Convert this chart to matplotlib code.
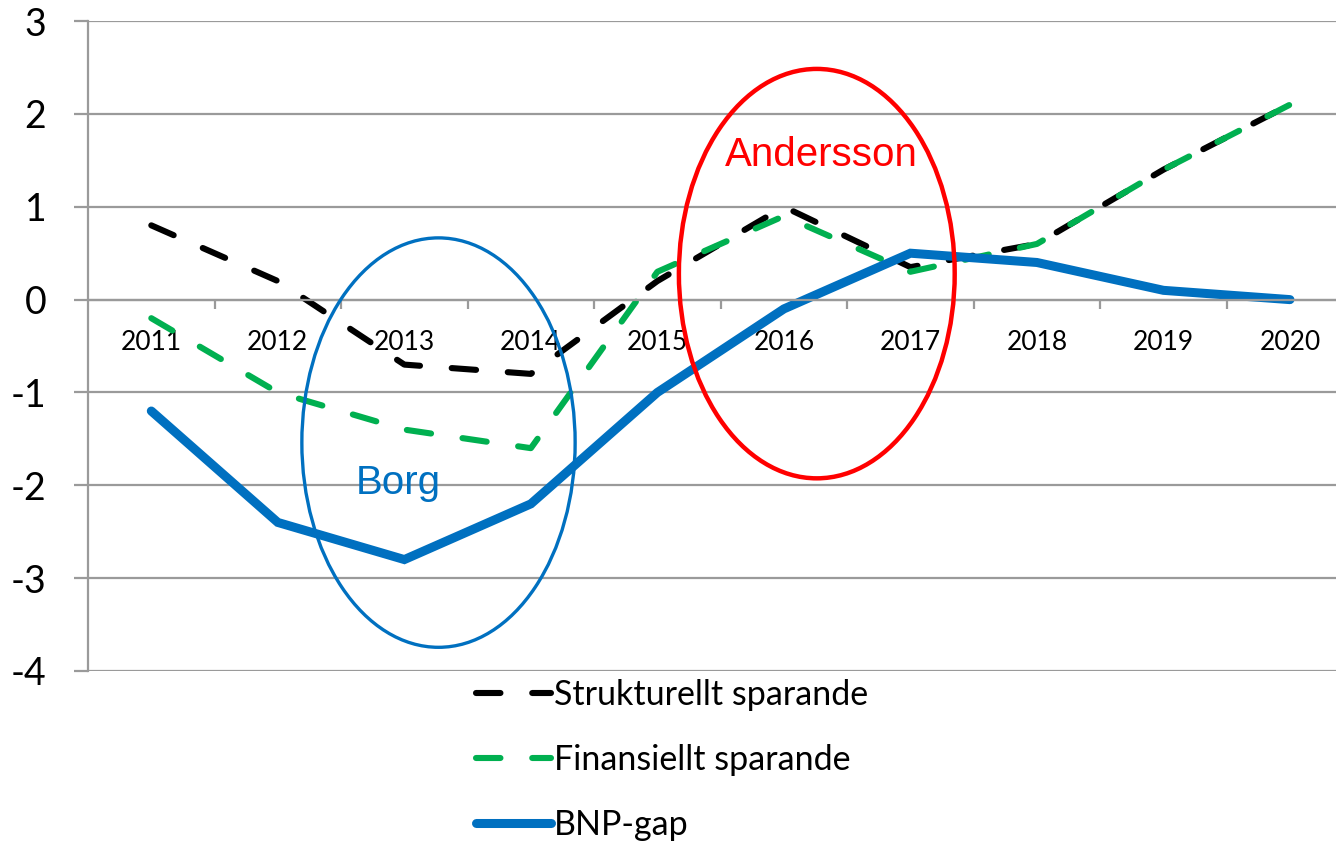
import numpy as np
import matplotlib
matplotlib.use("Agg")
import matplotlib.pyplot as plt
from matplotlib.patches import Ellipse

years = ["2011", "2012", "2013", "2014", "2015", "2016", "2017", "2018", "2019", "2020"]
strukturellt = [0.8, 0.2, -0.7, -0.8, 0.2, 1.0, 0.35, 0.6, 1.4, 2.1]
finansiellt = [-0.2, -1.0, -1.4, -1.6, 0.3, 0.9, 0.3, 0.6, 1.4, 2.1]
bnp_gap = [-1.2, -2.4, -2.8, -2.2, -1.0, -0.1, 0.5, 0.4, 0.1, 0.0]

plt.rcParams['font.family'] = ['Lato', 'DejaVu Sans']

fig = plt.figure(figsize=(13.36, 8.44), dpi=100)
ax = fig.add_axes([0.0659, 0.205, 0.947, 0.770])

x = np.arange(len(years))
grey = '#9a9a9a'

l1, = ax.plot(x, strukturellt, color='black', lw=4.4, dash_capstyle='round',
              label='Strukturellt sparande')
l1.set_dashes((4.0, 5.2))
l2, = ax.plot(x, finansiellt, color='#00B050', lw=4.4, dash_capstyle='round',
              label='Finansiellt sparande')
l2.set_dashes((4.0, 5.2))
l3, = ax.plot(x, bnp_gap, color='#0070C0', lw=6.5, solid_capstyle='round',
              solid_joinstyle='miter', label='BNP-gap')

# ringar runt perioderna
ax.add_patch(Ellipse((2.27, -1.54), 2.16, 4.41, fill=False, ec='#0070C0', lw=2.4, zorder=5))
ax.add_patch(Ellipse((5.26, 0.28), 2.18, 4.41, fill=False, ec='#FF0000', lw=3.2, zorder=5))
ax.text(1.95, -1.98, 'Borg', color='#0070C0', fontsize=29, family='Liberation Sans',
        ha='center', va='center')
ax.text(5.3, 1.56, 'Andersson', color='#FF0000', fontsize=29, family='Liberation Sans',
        ha='center', va='center')

ax.set_xlim(-0.5, 9.5)
ax.set_ylim(-4, 3)
ax.set_yticks(range(-4, 4))
ax.set_yticklabels([str(v) for v in range(-4, 4)])
ax.yaxis.grid(True, color=grey, lw=1.6)
ax.set_axisbelow(True)

ax.spines['top'].set_visible(False)
ax.spines['right'].set_visible(False)
ax.spines['bottom'].set_position(('data', 0))
ax.spines['bottom'].set_color(grey)
ax.spines['bottom'].set_linewidth(1.6)
ax.spines['left'].set_color(grey)
ax.spines['left'].set_linewidth(1.6)

ax.set_xticks(np.arange(0.5, 9.5, 1.0))
ax.set_xticklabels([])
ax.set_xticks(x, minor=True)
ax.set_xticklabels(years, minor=True)
ax.tick_params(axis='x', which='major', length=6.5, width=1.6, color=grey)
ax.tick_params(axis='x', which='minor', length=0, pad=22, labelsize=19)
ax.tick_params(axis='y', length=10, width=1.6, color=grey, pad=20, labelsize=27)

fig.legend(handles=[l1, l2, l3], loc='center', bbox_to_anchor=(0.503, 0.0995),
           frameon=False, fontsize=24.5, handlelength=2.2, handletextpad=0.1,
           labelspacing=0.98)

fig.savefig('out.png', dpi=100)
